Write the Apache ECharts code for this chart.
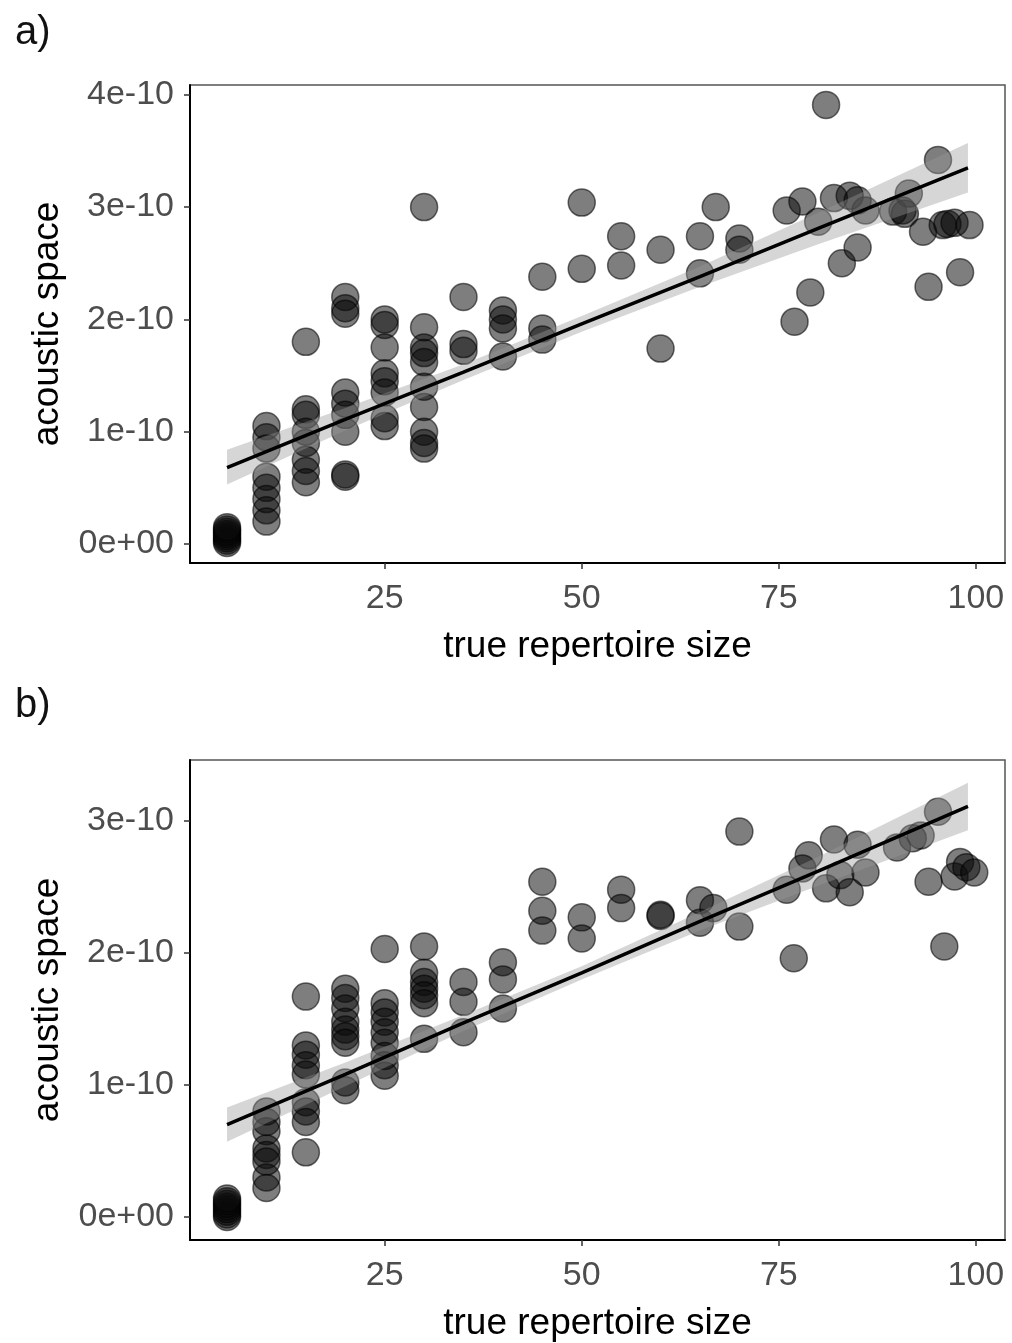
<!DOCTYPE html>
<html>
<head>
<meta charset="utf-8">
<script src="https://cdn.jsdelivr.net/npm/echarts@6/dist/echarts.min.js"></script>
<style>
  html, body { margin: 0; padding: 0; background: #fff; }
  #chart { width: 1012px; height: 1343px; }
</style>
</head>
<body>
<div id="chart"></div>
<script>
// acoustic space values are in units of 1e-10

// panel a) points
const aX = [
  5, 5, 5, 5, 5, 5, 5, 5,
  10, 10, 10, 10, 10, 10, 10, 10,
  15, 15, 15, 15, 15, 15, 15, 15,
  20, 20, 20, 20, 20, 20, 20, 20, 20,
  25, 25, 25, 25, 25, 25, 25, 25,
  30, 30, 30, 30, 30, 30, 30, 30, 30, 30,
  35, 35, 35,
  40, 40, 40, 40,
  45, 45, 45,
  50, 50,
  55, 55,
  60, 60,
  65, 65,
  67, 70, 70,
  76, 78, 80, 82, 84, 85, 86, 81,
  89.5, 90.7, 91.5, 91, 95.2, 93.3, 95.8, 96.4, 97.3, 99.2,
  77, 79, 83, 85, 94, 98
];
const aY = [
  0.01, 0.03, 0.05, 0.07, 0.09, 0.11, 0.13, 0.15,
  1.05, 0.95, 0.85, 0.6, 0.5, 0.4, 0.3, 0.2,
  1.8, 1.2, 1.15, 1.0, 0.9, 0.75, 0.65, 0.55,
  2.2, 2.1, 2.05, 1.35, 1.25, 1.15, 1.0, 0.62, 0.6,
  2.0, 1.95, 1.75, 1.52, 1.45, 1.35, 1.12, 1.05,
  3.0, 1.93, 1.75, 1.7, 1.62, 1.4, 1.22, 1.0, 0.9, 0.85,
  2.2, 1.78, 1.72,
  2.08, 2.0, 1.92, 1.67,
  2.38, 1.92, 1.82,
  3.04, 2.45,
  2.74, 2.48,
  2.62, 1.74,
  2.74, 2.41,
  3.0, 2.72, 2.62,
  2.97, 3.05, 2.87, 3.08, 3.1, 3.06, 2.97, 3.91,
  2.96, 2.97, 3.12, 2.94, 3.42, 2.78, 2.84, 2.85, 2.86, 2.84,
  1.98, 2.24, 2.5, 2.64, 2.29, 2.42
];
// panel a) fitted line and confidence band
const aFitX = [5, 20, 35, 50, 65, 80, 99];
const aFit = [0.68, 1.11, 1.53, 1.96, 2.38, 2.81, 3.35];
const aLo = [0.53, 1.01, 1.46, 1.89, 2.29, 2.67, 3.13];
const aHi = [0.84, 1.21, 1.60, 2.03, 2.47, 2.95, 3.57];

// panel b) points
const bX = [
  5, 5, 5, 5, 5, 5, 5, 5,
  10, 10, 10, 10, 10, 10, 10, 10,
  15, 15, 15, 15, 15, 15, 15, 15, 15,
  20, 20, 20, 20, 20, 20, 20, 20, 20,
  25, 25, 25, 25, 25, 25, 25, 25, 25,
  30, 30, 30, 30, 30, 30, 30,
  35, 35, 35,
  40, 40, 40,
  45, 45, 45,
  50, 50,
  55, 55,
  60, 60,
  65, 65, 66.7,
  70, 70,
  76.9, 76, 78.8, 78, 81, 82, 82.8, 84, 85, 86,
  90, 92, 93, 95.2, 94, 96, 97.3, 98, 98.8, 99.8
];
const bY = [
  0.0, 0.02, 0.04, 0.06, 0.08, 0.1, 0.12, 0.14,
  0.8, 0.72, 0.65, 0.52, 0.47, 0.42, 0.3, 0.22,
  1.67, 1.3, 1.23, 1.15, 1.08, 0.87, 0.8, 0.72, 0.49,
  1.73, 1.66, 1.58, 1.48, 1.42, 1.37, 1.32, 1.02, 0.96,
  2.03, 1.62, 1.55, 1.48, 1.4, 1.32, 1.22, 1.15, 1.07,
  2.05, 1.85, 1.78, 1.73, 1.68, 1.62, 1.35,
  1.78, 1.63, 1.4,
  1.93, 1.8, 1.58,
  2.54, 2.32, 2.17,
  2.27, 2.11,
  2.48, 2.34,
  2.29, 2.28,
  2.4, 2.23, 2.34,
  2.92, 2.2,
  1.96, 2.48, 2.74, 2.64, 2.49, 2.86, 2.59, 2.46, 2.82, 2.61,
  2.8, 2.87, 2.89, 3.07, 2.54, 2.05, 2.58, 2.69, 2.65, 2.61
];
const bFitX = [5, 20, 35, 50, 65, 80, 99];
const bFit = [0.70, 1.08, 1.47, 1.85, 2.24, 2.62, 3.11];
const bLo = [0.57, 0.99, 1.41, 1.80, 2.17, 2.51, 2.93];
const bHi = [0.83, 1.17, 1.53, 1.90, 2.31, 2.73, 3.29];

const xTicks = [25, 50, 75, 100];
const aYTicks = [0, 1, 2, 3, 4];
const bYTicks = [0, 1, 2, 3];

const font = 'Liberation Sans, Arial, sans-serif';

const zip = (xs, ys) => xs.map((x, i) => [x, ys[i]]);

const yLabel = v => (v === 0 ? '0e+00' : v + 'e-10');

const makeX = (idx) => ({
  type: 'value',
  gridIndex: idx,
  min: 0.3,
  max: 103.7,
  name: 'true repertoire size',
  nameLocation: 'middle',
  nameGap: 65,
  nameTextStyle: { fontFamily: font, fontSize: 37, color: '#000' },
  axisLine: { show: true, onZero: false, lineStyle: { color: '#000', width: 2 } },
  axisTick: { show: true, customValues: xTicks, length: 6, lineStyle: { color: '#333', width: 1.5 } },
  axisLabel: { customValues: xTicks, margin: 19, fontFamily: font, fontSize: 34, color: '#4d4d4d' },
  splitLine: { show: false }
});

const makeY = (idx, min, max, ticks) => ({
  type: 'value',
  gridIndex: idx,
  min: min,
  max: max,
  name: 'acoustic space',
  nameLocation: 'middle',
  nameGap: 124,
  nameTextStyle: { fontFamily: font, fontSize: 37, color: '#000' },
  axisLine: { show: true, onZero: false, lineStyle: { color: '#000', width: 2 } },
  axisTick: { show: true, customValues: ticks, length: 6, lineStyle: { color: '#333', width: 1.5 } },
  axisLabel: { customValues: ticks, margin: 16, fontFamily: font, fontSize: 34, color: '#4d4d4d', formatter: yLabel },
  splitLine: { show: false }
});

const bandSeries = (idx, xs, lo, hi) => ({
  type: 'custom',
  xAxisIndex: idx,
  yAxisIndex: idx,
  z: 3,
  silent: true,
  data: [0],
  renderItem: (params, api) => {
    const pts = [];
    xs.forEach((x, i) => pts.push(api.coord([x, hi[i]])));
    for (let i = xs.length - 1; i >= 0; i--) pts.push(api.coord([xs[i], lo[i]]));
    return {
      type: 'polygon',
      shape: { points: pts },
      style: { fill: 'rgba(153,153,153,0.4)', stroke: null }
    };
  }
});

const pointSeries = (idx, xs, ys) => ({
  type: 'scatter',
  xAxisIndex: idx,
  yAxisIndex: idx,
  z: 2,
  symbolSize: 27,
  itemStyle: { color: 'rgba(10,10,10,0.66)', borderColor: 'rgba(0,0,0,0.7)', borderWidth: 1.5 },
  emphasis: { disabled: true },
  data: zip(xs, ys)
});

const lineSeries = (idx, xs, ys) => ({
  type: 'line',
  xAxisIndex: idx,
  yAxisIndex: idx,
  z: 4,
  symbol: 'none',
  lineStyle: { color: '#000', width: 3.5 },
  emphasis: { disabled: true },
  data: zip(xs, ys)
});

const chart = echarts.init(document.getElementById('chart'));
chart.setOption({
  animation: false,
  backgroundColor: '#fff',
  title: [
    { text: 'a)', left: 10, top: 8, textStyle: { fontFamily: font, fontSize: 40, fontWeight: 'normal', color: '#111' } },
    { text: 'b)', left: 10, top: 681, textStyle: { fontFamily: font, fontSize: 40, fontWeight: 'normal', color: '#111' } }
  ],
  grid: [
    { left: 190, top: 85, width: 815, height: 478, show: true, borderColor: '#555', borderWidth: 1.5 },
    { left: 190, top: 760, width: 815, height: 480, show: true, borderColor: '#555', borderWidth: 1.5 }
  ],
  xAxis: [makeX(0), makeX(1)],
  yAxis: [
    makeY(0, -0.169, 4.087, aYTicks),
    makeY(1, -0.174, 3.462, bYTicks)
  ],
  series: [
    pointSeries(0, aX, aY),
    bandSeries(0, aFitX, aLo, aHi),
    lineSeries(0, aFitX, aFit),
    pointSeries(1, bX, bY),
    bandSeries(1, bFitX, bLo, bHi),
    lineSeries(1, bFitX, bFit)
  ]
});
</script>
</body>
</html>
